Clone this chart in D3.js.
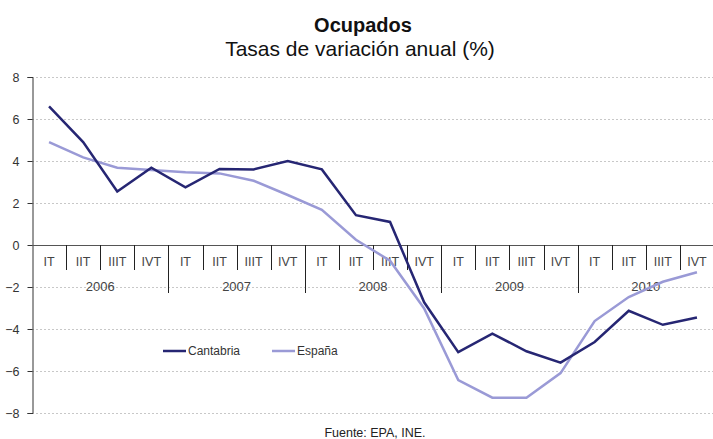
<!DOCTYPE html>
<html>
<head>
<meta charset="utf-8">
<script src="https://cdn.jsdelivr.net/npm/d3@7"></script>
<style>
  body { margin: 0; background: #fff; }
  svg { font-family: "Liberation Sans", Arial, sans-serif; }
</style>
</head>
<body>
<div id="chart-area"></div>
<script>
// quarters and years on the category axis
const years = ["2006", "2007", "2008", "2009", "2010"]
const quarters = ["IT", "IIT", "IIIT", "IVT"]
const yTicks = [-8, -6, -4, -2, 0, 2, 4, 6, 8]

// annual change in employment (%)
const cantabria = [6.6, 4.9, 2.55, 3.68, 2.75, 3.62, 3.6, 4.0, 3.6, 1.42, 1.1, -2.73,
  -5.1, -4.22, -5.06, -5.6, -4.62, -3.13, -3.8, -3.45]
const espana = [4.9, 4.17, 3.68, 3.57, 3.46, 3.41, 3.06, 2.38, 1.67, 0.25, -0.75, -3.02,
  -6.43, -7.27, -7.27, -6.1, -3.62, -2.48, -1.75, -1.3]

const categories = years.flatMap(y => quarters.map(q => y + "-" + q))

const width = 713, height = 439
const margin = {top: 77, right: 0, bottom: 26, left: 32}

const svg = d3.select("#chart-area").append("svg")
	.attr("width", width)
	.attr("height", height)

const x = d3.scaleBand()
	.domain(categories)
	.range([margin.left, 714])

const y = d3.scaleLinear()
	.domain([-8, 8])
	.range([413, 77])

// grid lines
svg.append("g").selectAll("line")
	.data(yTicks.filter(d => d !== 0))
	.enter().append("line")
	.attr("x1", margin.left)
	.attr("x2", width)
	.attr("y1", d => y(d) + 0.5)
	.attr("y2", d => y(d) + 0.5)
	.attr("stroke", "#c8c8c8")
	.attr("stroke-dasharray", "2,2")

// y axis
const yAxis = svg.append("g")
	.attr("transform", `translate(${margin.left + 0.5},0)`)
	.call(d3.axisLeft(y).tickValues(yTicks).tickSize(5).tickPadding(8))
yAxis.select(".domain").attr("stroke", "#333")
yAxis.selectAll(".tick line").attr("stroke", "#333")
yAxis.selectAll("text")
	.attr("font-size", 12.5)
	.attr("fill", "#333")
	.attr("font-family", "Liberation Sans, Arial, sans-serif")

// zero line
svg.append("line")
	.attr("x1", margin.left)
	.attr("x2", width)
	.attr("y1", y(0) + 0.5)
	.attr("y2", y(0) + 0.5)
	.attr("stroke", "#555")

// quarter separators and labels
const catG = svg.append("g")
catG.selectAll("line")
	.data(categories.slice(1))
	.enter().append("line")
	.attr("x1", d => Math.round(x(d)) + 0.5)
	.attr("x2", d => Math.round(x(d)) + 0.5)
	.attr("y1", y(0))
	.attr("y2", d => d.endsWith("-IT") ? y(0) + 48 : y(0) + 25)
	.attr("stroke", "#222")

catG.selectAll("text")
	.data(categories)
	.enter().append("text")
	.attr("x", d => x(d) + x.bandwidth() / 2)
	.attr("y", y(0) + 21)
	.attr("text-anchor", "middle")
	.attr("font-size", 12.5)
	.attr("fill", "#444")
	.text(d => d.split("-")[1])

catG.selectAll(".year")
	.data(years)
	.enter().append("text")
	.attr("class", "year")
	.attr("x", d => x(d + "-IT") + 2 * x.bandwidth())
	.attr("y", y(0) + 46)
	.attr("text-anchor", "middle")
	.attr("font-size", 13)
	.attr("fill", "#444")
	.text(d => d)

// series
const line = d3.line()
	.x((d, i) => x(categories[i]) + x.bandwidth() / 2)
	.y(d => y(d))

svg.append("path")
	.datum(espana)
	.attr("d", line)
	.attr("fill", "none")
	.attr("stroke", "#9a9ad6")
	.attr("stroke-width", 2.5)

svg.append("path")
	.datum(cantabria)
	.attr("d", line)
	.attr("fill", "none")
	.attr("stroke", "#262673")
	.attr("stroke-width", 2.5)

// legend
const legend = [
	{name: "Cantabria", color: "#262673", x: 163},
	{name: "España", color: "#9a9ad6", x: 272}
]
const lg = svg.append("g").selectAll("g")
	.data(legend)
	.enter().append("g")
	.attr("transform", d => `translate(${d.x},351)`)
lg.append("line")
	.attr("x1", 0).attr("x2", 23)
	.attr("stroke", d => d.color)
	.attr("stroke-width", 2.5)
lg.append("text")
	.attr("x", 25)
	.attr("y", 4)
	.attr("font-size", 12)
	.attr("fill", "#333")
	.text(d => d.name)

// titles
svg.append("text")
	.attr("x", 363)
	.attr("y", 32)
	.attr("text-anchor", "middle")
	.attr("font-size", 20)
	.attr("font-weight", "bold")
	.attr("fill", "#111")
	.text("Ocupados")

svg.append("text")
	.attr("x", 360)
	.attr("y", 56)
	.attr("text-anchor", "middle")
	.attr("font-size", 21)
	.attr("fill", "#111")
	.text("Tasas de variación anual (%)")

svg.append("text")
	.attr("x", 375)
	.attr("y", 437)
	.attr("text-anchor", "middle")
	.attr("font-size", 12.5)
	.attr("fill", "#222")
	.text("Fuente: EPA, INE.")
</script>
</body>
</html>
